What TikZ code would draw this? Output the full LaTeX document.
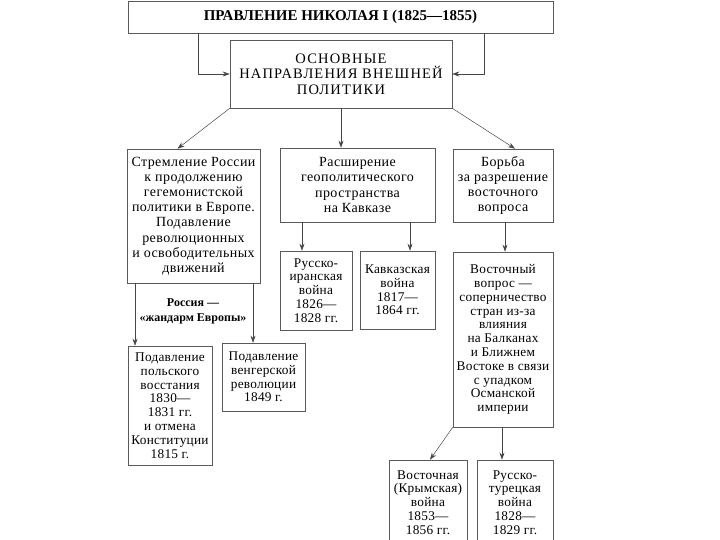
\documentclass[tikz,border=0pt]{standalone}
\usepackage{fontspec}
\setmainfont{Liberation Serif}
\usepackage{tikz}
\usetikzlibrary{arrows.meta, positioning, calc}
\definecolor{trait}{RGB}{70,70,70}
\definecolor{cadre}{RGB}{90,90,90}

\begin{document}
\begin{tikzpicture}[x=1pt, y=-1pt, font=\fontsize{14}{15.2}\selectfont\addfontfeature{LetterSpace=3},
		boite/.style={draw=cadre, line width=0.6pt, fill=white, align=center, inner sep=1pt},
		petite/.style={boite, font=\fontsize{13.3}{13.8}\selectfont\addfontfeature{LetterSpace=2}},
		fleche/.style={draw=trait, line width=0.5pt, -{Stealth[length=7pt, width=5pt]}}]
			\clip (0,0) rectangle (720,540);
			
			% Niveau haut
			\node[boite, minimum width=425pt, minimum height=32pt, font=\fontsize{15}{16}\selectfont\bfseries]
				(regne) at (340.5,17) {ПРАВЛЕНИЕ НИКОЛАЯ I (1825—1855)};
			\node[boite, minimum width=222pt, minimum height=68pt, font=\fontsize{14.5}{15.5}\selectfont\addfontfeature{LetterSpace=8}]
				(orient) at (341,74) {ОСНОВНЫЕ\\НАПРАВЛЕНИЯ ВНЕШНЕЙ\\ПОЛИТИКИ};
			
			\draw[fleche] (regne.south -| 198,0) |- (orient.west);
			\draw[fleche] (regne.south -| 484,0) |- (orient.east);
			
			% Trois directions
			\node[boite, minimum width=133pt, minimum height=134pt] (europe) at (193.5,216)
				{Стремление России\\к продолжению\\гегемонистской\\политики в Европе.\\Подавление\\революционных\\и освободительных\\движений};
			\node[boite, minimum width=155pt, minimum height=74pt] (kavkaz) at (357.5,185)
				{Расширение\\геополитического\\пространства\\на Кавказе};
			\node[boite, minimum width=100pt, minimum height=73pt] (vostok) at (503,185.5)
				{Борьба\\за разрешение\\восточного\\вопроса};
			
			\draw[fleche] (orient.south west) -- ([xshift=-16pt]europe.north);
			\draw[fleche] (orient.south) -- (orient.south |- kavkaz.north);
			\draw[fleche] (orient.south east) -- ([xshift=12pt]vostok.north);
			
			% Europe
			\node[petite, minimum width=84pt, minimum height=119pt] (polsha) at (170,405.5)
				{Подавление\\польского\\восстания\\1830—\\1831 гг.\\и отмена\\Конституции\\1815 г.};
			\node[petite, minimum width=83pt, minimum height=68pt] (vengria) at (263.5,377)
				{Подавление\\венгерской\\революции\\1849 г.};
			\node[font=\fontsize{12}{15}\selectfont\bfseries, align=center] (gendarme) at (193,311)
				{Россия —\\«жандарм Европы»};
			
			\draw[fleche] (europe.south -| 135,0) -- (polsha.north -| 135,0);
			\draw[fleche] (europe.south -| 253,0) -- (vengria.north -| 253,0);
			
			% Caucase
			\node[petite, minimum width=72pt, minimum height=79pt] (iran) at (316,290.5)
				{Русско-\\иранская\\война\\1826—\\1828 гг.};
			\node[petite, minimum width=75pt, minimum height=78pt] (guerre) at (397.5,290)
				{Кавказская\\война\\1817—\\1864 гг.};
			
			\draw[fleche] (kavkaz.south -| 302,0) -- (iran.north -| 302,0);
			\draw[fleche] (kavkaz.south -| 410,0) -- (guerre.north -| 410,0);
			
			% Question d'Orient
			\node[petite, minimum width=100pt, minimum height=175pt] (question) at (503,339.5)
				{Восточный\\вопрос —\\соперничество\\стран из-за\\влияния\\на Балканах\\и Ближнем\\Востоке в связи\\с упадком\\Османской\\империи};
			\node[petite, minimum width=78pt, minimum height=85pt] (krym) at (428,502.5)
				{Восточная\\(Крымская)\\война\\1853—\\1856 гг.};
			\node[petite, minimum width=76pt, minimum height=85pt] (turquie) at (515,502.5)
				{Русско-\\турецкая\\война\\1828—\\1829 гг.};
			
			\draw[fleche] (vostok.south -| 505,0) -- (question.north -| 505,0);
			\draw[fleche] (question.south west) -- ([xshift=2pt]krym.north);
			\draw[fleche] (question.south -| 502,0) -- (turquie.north -| 502,0);
\end{tikzpicture}
\end{document}
